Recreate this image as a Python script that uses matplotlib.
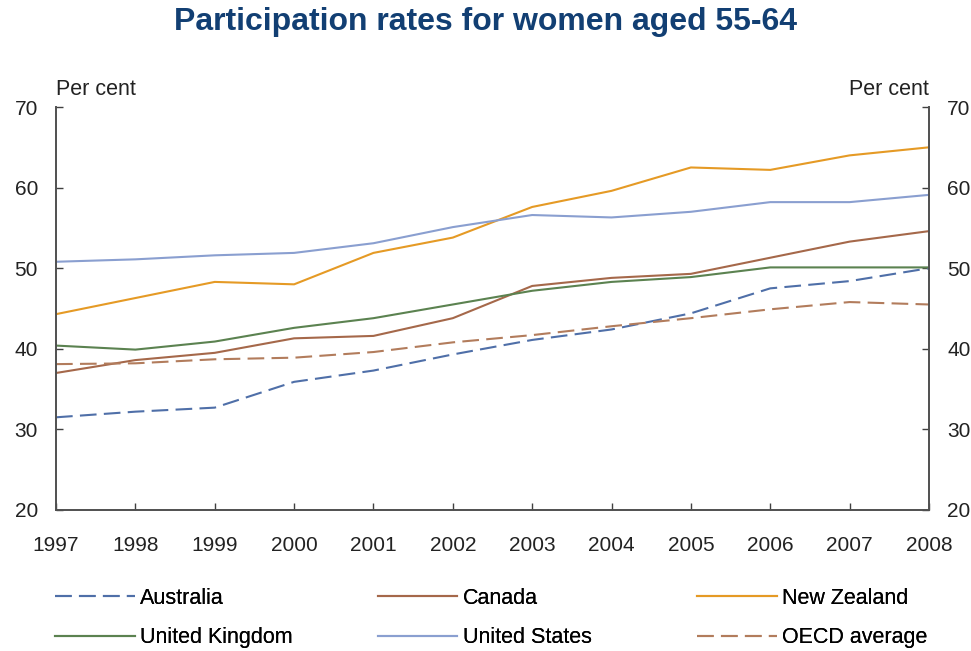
import matplotlib
matplotlib.use("Agg")
import matplotlib.pyplot as plt

plt.rcParams['font.family'] = ['Liberation Sans', 'DejaVu Sans']

years = list(range(1997, 2009))

australia = [31.5, 32.2, 32.7, 35.9, 37.3, 39.3, 41.1, 42.4, 44.4, 47.5, 48.4, 50.0]
canada = [37.0, 38.6, 39.5, 41.3, 41.6, 43.8, 47.8, 48.8, 49.3, 51.3, 53.3, 54.6]
new_zealand = [44.3, 46.3, 48.3, 48.0, 51.9, 53.8, 57.6, 59.6, 62.5, 62.2, 64.0, 65.0]
united_kingdom = [40.4, 39.9, 40.9, 42.6, 43.8, 45.5, 47.2, 48.3, 48.9, 50.1, 50.1, 50.1]
united_states = [50.8, 51.1, 51.6, 51.9, 53.1, 55.1, 56.6, 56.3, 57.0, 58.2, 58.2, 59.1]
oecd_average = [38.1, 38.2, 38.7, 38.9, 39.6, 40.8, 41.7, 42.8, 43.8, 44.9, 45.8, 45.5]

yticks = [20, 30, 40, 50, 60, 70]

fig = plt.figure(figsize=(9.71, 6.51), dpi=100)
ax = fig.add_axes([0.0577, 0.2166, 0.899, 0.619])

lw = 1.5
dash = (0, (8, 3.5))
l_aus, = ax.plot(years, australia, color='#4f6fa8', lw=lw, ls=dash, label='Australia')
l_can, = ax.plot(years, canada, color='#a5684a', lw=lw, label='Canada')
l_nz, = ax.plot(years, new_zealand, color='#e59a25', lw=lw, label='New Zealand')
l_uk, = ax.plot(years, united_kingdom, color='#5b8250', lw=lw, label='United Kingdom')
l_us, = ax.plot(years, united_states, color='#8a9fd0', lw=lw, label='United States')
l_oecd, = ax.plot(years, oecd_average, color='#b27c5c', lw=lw, ls=dash, label='OECD average')

ax.set_xlim(1997, 2008)
ax.set_ylim(20, 70)
ax.set_xticks(years)
ax.set_yticks(yticks)
ax.tick_params(axis='both', direction='in', length=5, width=1, color='#404040',
               labelsize=15, labelcolor='#222222', pad=13)
ax.tick_params(axis='x', pad=19)
ax.tick_params(axis='y', right=True, labelright=True)

for side in ['left', 'right', 'bottom']:
    ax.spines[side].set_color('#505050')
    ax.spines[side].set_linewidth(1.4)
ax.spines['top'].set_visible(False)

ax.text(0.0, 1.018, 'Per cent', transform=ax.transAxes, fontsize=15.5, color='#222222',
        ha='left', va='bottom')
ax.text(1.0, 1.018, 'Per cent', transform=ax.transAxes, fontsize=15.5, color='#222222',
        ha='right', va='bottom')

fig.text(0.5, 0.966, 'Participation rates for women aged 55-64', fontsize=23,
         fontweight='bold', color='#123f73', ha='center', va='center')

# one legend per column, two entries each
columns = [(0.0566, [l_aus, l_uk]), (0.389, [l_can, l_us]), (0.718, [l_nz, l_oecd])]
for x0, hs in columns:
    leg = fig.legend(handles=hs, labels=[h.get_label() for h in hs],
                     loc='center left', bbox_to_anchor=(x0, 0.0505),
                     frameon=False, fontsize=15.5, handlelength=3.7, handletextpad=0.25,
                     labelspacing=0.85, borderpad=0, borderaxespad=0)
    fig.add_artist(leg)

fig.savefig('out.png', dpi=100)
